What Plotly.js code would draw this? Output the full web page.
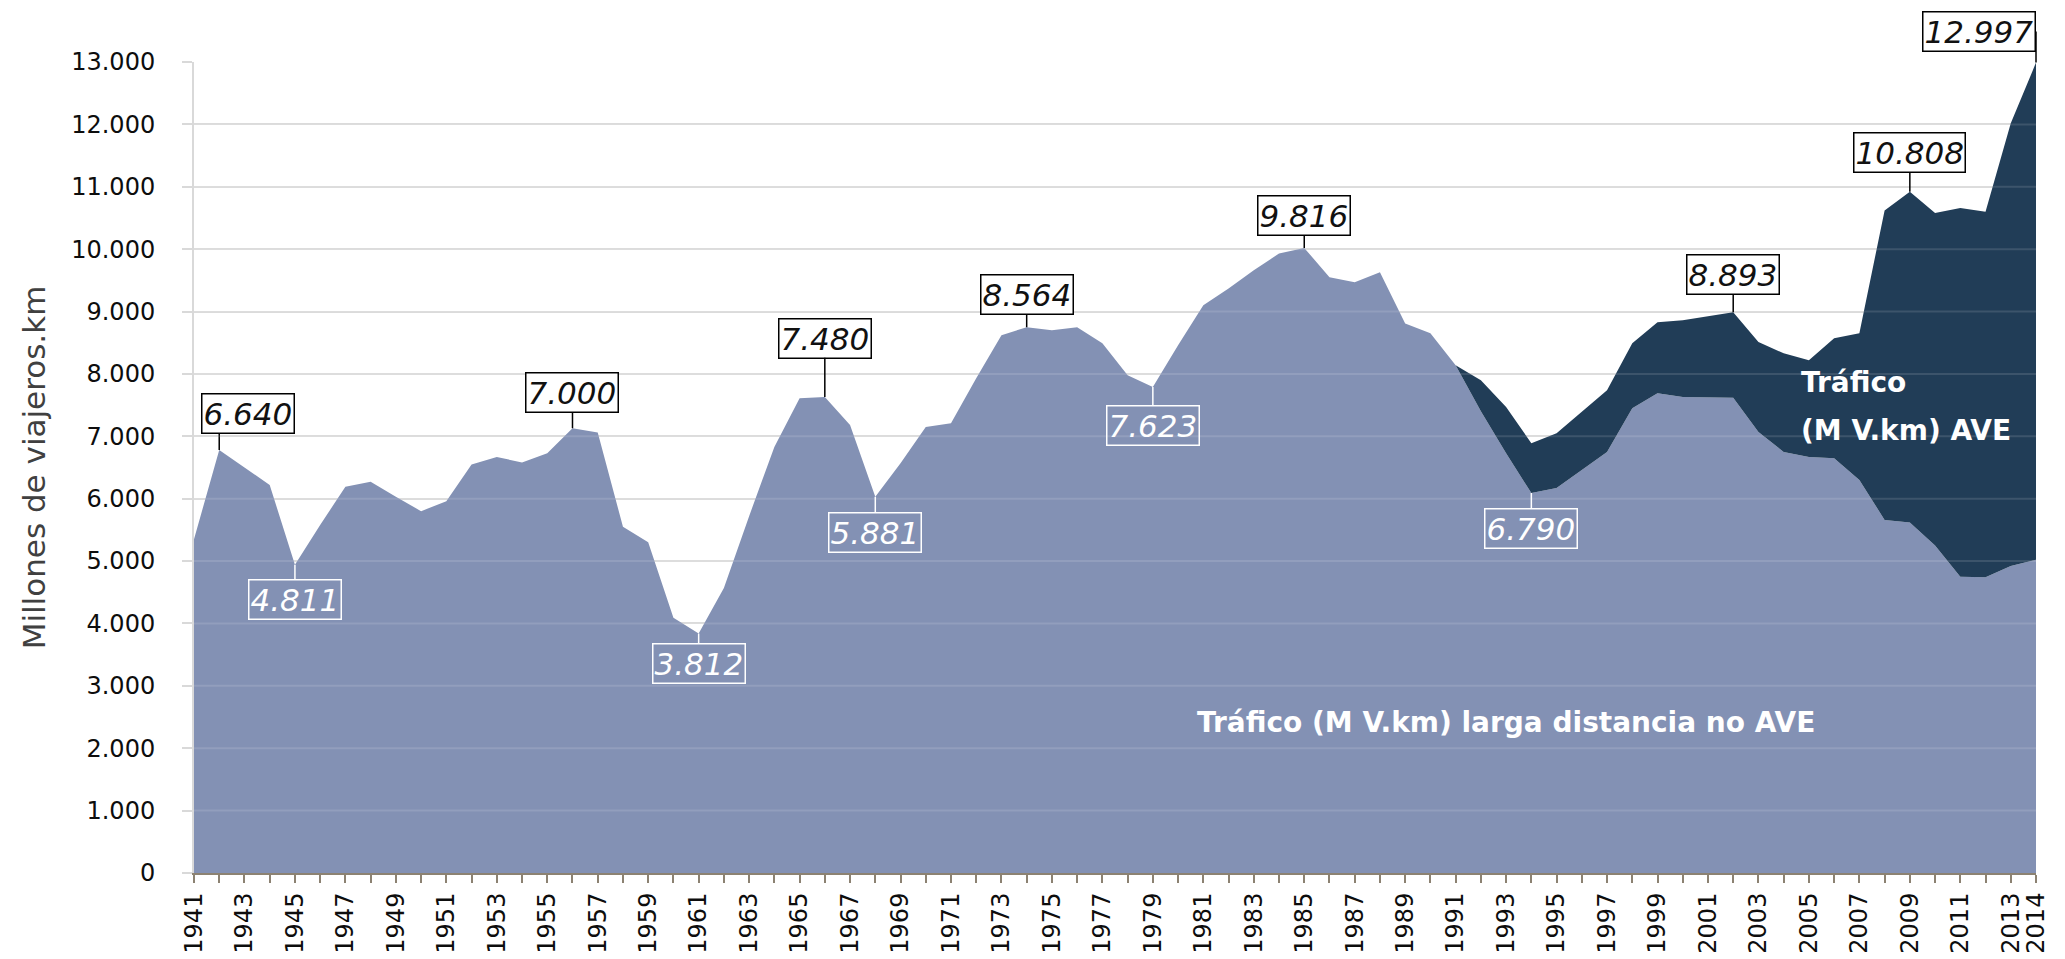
<!DOCTYPE html>
<html>
<head>
<meta charset="utf-8">
<script src="https://cdn.plot.ly/plotly-3.0.1.min.js"></script>
<style>
html,body{margin:0;padding:0;background:#ffffff;}
#chart{width:2065px;height:959px;}
</style>
</head>
<body>
<div id="chart"></div>
<script>
// ---------------- DATA ----------------
const years = [1941,1942,1943,1944,1945,1946,1947,1948,1949,1950,
  1951,1952,1953,1954,1955,1956,1957,1958,1959,1960,
  1961,1962,1963,1964,1965,1966,1967,1968,1969,1970,
  1971,1972,1973,1974,1975,1976,1977,1978,1979,1980,
  1981,1982,1983,1984,1985,1986,1987,1988,1989,1990,
  1991,1992,1993,1994,1995,1996,1997,1998,1999,2000,
  2001,2002,2003,2004,2005,2006,2007,2008,2009,2010,
  2011,2012,2013,2014];

// Tráfico (M V.km) larga distancia no AVE
const noAVE = [5350,6780,6500,6220,4940,5580,6190,6270,6030,5800,
  5960,6550,6670,6580,6730,7130,7060,5550,5300,4090,
  3840,4570,5720,6830,7610,7630,7180,6030,6570,7150,
  7210,7930,8620,8750,8700,8750,8490,7980,7790,8460,
  9100,9370,9660,9930,10020,9550,9470,9630,8810,8650,
  8140,7400,6730,6090,6170,6460,6750,7450,7690,7630,
  7620,7620,7070,6750,6670,6650,6300,5660,5620,5250,
  4750,4740,4920,5020];

// Tráfico (M V.km) AVE
const aveYears = [1991,1992,1993,1994,1995,1996,1997,1998,1999,2000,
  2001,2002,2003,2004,2005,2006,2007,2008,2009,2010,
  2011,2012,2013,2014];
const ave = [0,500,740,800,880,930,990,1040,1140,1230,
  1310,1370,1440,1580,1550,1920,2350,4960,5300,5330,
  5910,5860,7100,7970];

const xTickLabels = ['1941','1943','1945','1947','1949','1951','1953','1955','1957','1959',
  '1961','1963','1965','1967','1969','1971','1973','1975','1977','1979',
  '1981','1983','1985','1987','1989','1991','1993','1995','1997','1999',
  '2001','2003','2005','2007','2009','2011','2013','2014'];
const yTickValues = [0,1000,2000,3000,4000,5000,6000,7000,8000,9000,10000,11000,12000,13000];

const labelYears = [1942,1945,1956,1961,1966,1968,1974,1979,1985,1994,2002,2009,2014];
const labelTexts = ['6.640','4.811','7.000','3.812','7.480','5.881','8.564','7.623','9.816','6.790','8.893','10.808','12.997'];

const seriesNames = ['Tráfico (M V.km) larga distancia no AVE', 'Tráfico (M V.km) AVE'];

// ---------------- STYLE / PLACEMENT ----------------
const LIGHT = '#8391b4';
const DARK = '#213d57';
const FONT = 'DejaVu Sans, Verdana, sans-serif';
// label box placement: side ('above' = on total, black box; 'below' = on non-AVE, white box), offsets in px
const labelPlace = {
  1942:{side:'above', dx:29, dy:37},
  1945:{side:'below', dx:0, dy:-35},
  1956:{side:'above', dx:0, dy:36},
  1961:{side:'below', dx:0, dy:-30},
  1966:{side:'above', dx:0, dy:59},
  1968:{side:'below', dx:0, dy:-36},
  1974:{side:'above', dx:0, dy:33},
  1979:{side:'below', dx:0, dy:-38},
  1985:{side:'above', dx:0, dy:32},
  1994:{side:'below', dx:0, dy:-35},
  2002:{side:'above', dx:0, dy:38},
  2009:{side:'above', dx:0, dy:39},
  2014:{side:'above', dx:0, dy:31, right:true}
};

function aveAt(y){ const k = aveYears.indexOf(y); return k >= 0 ? ave[k] : 0; }
function noAveAt(y){ return noAVE[years.indexOf(y)]; }

const traces = [
  {x: years, y: noAVE, name: seriesNames[0], type:'scatter', mode:'lines',
   stackgroup:'t', stackgaps:'infer zero', line:{width:0, color:LIGHT}, fillcolor:LIGHT, hoverinfo:'x+y'},
  {x: aveYears, y: ave, name: seriesNames[1], type:'scatter', mode:'lines',
   stackgroup:'t', line:{width:0, color:DARK}, fillcolor:DARK, hoverinfo:'x+y'}
];

const annotations = [];
const shapes = [];

labelYears.forEach((yr, i) => {
  const p = labelPlace[yr];
  const above = p.side === 'above';
  const yVal = above ? noAveAt(yr) + aveAt(yr) : noAveAt(yr);
  const col = above ? '#000000' : '#ffffff';
  const base = {
    x: yr, y: yVal, xref:'x', yref:'y', text: labelTexts[i],
    font:{family:FONT, size:31, style:'italic', color: above ? '#111111' : '#ffffff'},
    bordercolor: col, borderwidth:1.5, borderpad:1,
    bgcolor: above ? '#ffffff' : 'rgba(0,0,0,0)',
    arrowcolor: col, arrowwidth:1.5, arrowhead:0
  };
  if (p.dx !== 0) {
    annotations.push(Object.assign(base, {showarrow:false, xshift:p.dx, yshift:p.dy}));
    shapes.push({type:'line', xref:'x', yref:'y', x0:yr, x1:yr, ysizemode:'pixel', yanchor:yVal,
      y0:0, y1:(p.dy > 0 ? p.dy - 21 : p.dy + 21), line:{color:col, width:1.5}, layer:'above'});
  } else if (p.right) {
    annotations.push(Object.assign(base, {showarrow:true, ax:0, ay:-p.dy, xanchor:'right'}));
  } else {
    annotations.push(Object.assign(base, {showarrow:true, ax:0, ay:-p.dy}));
  }
});

// series labels inside the areas
annotations.push({x:1993.0, y:2420, xref:'x', yref:'y', showarrow:false,
  text:seriesNames[0], font:{family:FONT, size:28, weight:'bold', color:'#ffffff'}});
annotations.push({x:2004.6, y:7870, xref:'x', yref:'y', showarrow:false, xanchor:'left',
  text:'Tráfico', font:{family:FONT, size:28, weight:'bold', color:'#ffffff'}});
annotations.push({x:2004.6, y:7100, xref:'x', yref:'y', showarrow:false, xanchor:'left',
  text:'(M V.km) AVE', font:{family:FONT, size:28, weight:'bold', color:'#ffffff'}});

// faint gridlines seen through the areas
yTickValues.filter(v => v > 0).forEach(v => {
  shapes.push({type:'line', xref:'paper', x0:0, x1:1, yref:'y', y0:v, y1:v,
    line:{color:'rgba(255,255,255,0.12)', width:2}, layer:'above'});
});

const tickText = years.map(y => xTickLabels.indexOf(String(y)) >= 0 ? String(y) : '');

const layout = {
  width:2065, height:959,
  margin:{l:194, r:29, t:62, b:86, pad:0},
  paper_bgcolor:'#ffffff', plot_bgcolor:'#ffffff',
  separators:',.',
  showlegend:false,
  font:{family:FONT, color:'#111111'},
  xaxis:{
    type:'linear', range:[1941, 2014], tickmode:'array', tickvals:years, ticktext:tickText,
    tickangle:-90, tickfont:{family:FONT, size:24, color:'#0d0d0d'},
    ticks:'outside', ticklen:8, tickwidth:2, tickcolor:'#8c8272',
    showline:true, linecolor:'#8c8272', linewidth:2,
    showgrid:false, zeroline:false, automargin:false
  },
  yaxis:{
    range:[0, 13000], tickmode:'array', tickvals:yTickValues, tickformat:',d',
    tickfont:{family:FONT, size:24, color:'#0d0d0d'},
    ticks:'outside', ticklen:10, tickwidth:2, tickcolor:'#d9d9d9',
    showgrid:true, gridcolor:'#d9d9d9', gridwidth:2,
    showline:true, linecolor:'#d9d9d9', linewidth:2, zeroline:false,
    ticklabelstandoff:22, automargin:false,
    title:{text:'Millones de viajeros.km', font:{family:FONT, size:31, color:'#404040'}, standoff:16}
  },
  annotations:annotations,
  shapes:shapes
};

Plotly.newPlot('chart', traces, layout, {displayModeBar:false, staticPlot:true});
</script>
</body>
</html>
